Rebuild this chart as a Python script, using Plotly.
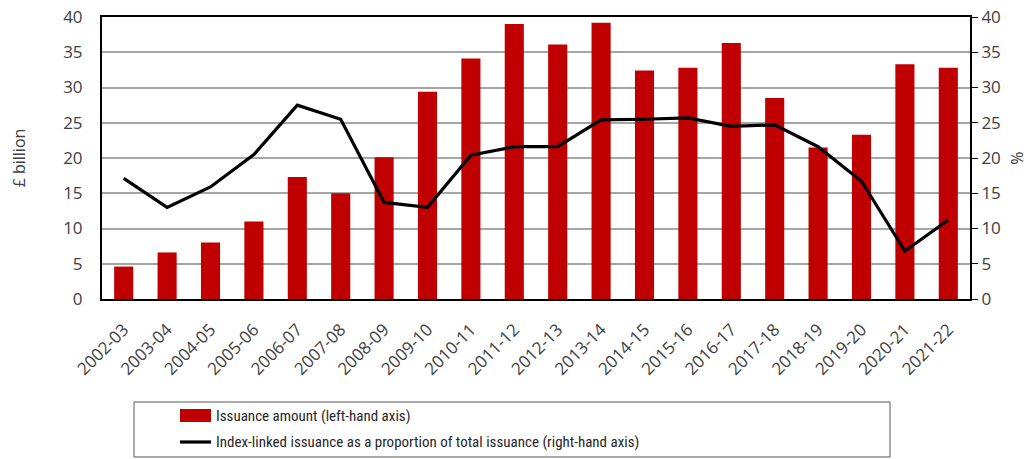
import plotly.graph_objects as go

years = ["2002-03", "2003-04", "2004-05", "2005-06", "2006-07", "2007-08", "2008-09",
         "2009-10", "2010-11", "2011-12", "2012-13", "2013-14", "2014-15", "2015-16",
         "2016-17", "2017-18", "2018-19", "2019-20", "2020-21", "2021-22"]

# issuance amount, £ billion (left axis)
issuance = [4.6, 6.6, 8.0, 11.0, 17.3, 15.0, 20.1, 29.4, 34.1, 39.0,
            36.1, 39.2, 32.4, 32.8, 36.3, 28.5, 21.5, 23.3, 33.3, 32.8]

# index-linked share of total issuance, % (right axis)
share = [17.1, 13.0, 15.9, 20.5, 27.5, 25.5, 13.7, 13.0, 20.4, 21.6,
         21.6, 25.4, 25.5, 25.7, 24.5, 24.7, 21.6, 16.7, 6.8, 11.2]

ticks = [0, 5, 10, 15, 20, 25, 30, 35, 40]

bar_name = "Issuance amount (left-hand axis)"
line_name = "Index-linked issuance as a proportion of total issuance (right-hand axis)"

font = dict(family="Open Sans", size=17, color="#404040")
L, R, T, B = 102, 62, 17, 160
W, H = 1032, 459
pw, ph = W - L - R, H - T - B

def px(x):  # pixel -> paper x
    return (x - L) / pw

def py(y):  # pixel -> paper y
    return (H - B - y) / ph

fig = go.Figure()
fig.add_trace(go.Bar(x=years, y=issuance, name=bar_name,
                     marker=dict(color="#C00000", line=dict(width=0))))
fig.add_trace(go.Scatter(x=years, y=share, yaxis="y2", mode="lines", name=line_name,
                         line=dict(color="black", width=3.2)))

fig.update_layout(
    width=W, height=H,
    margin=dict(l=L, r=R, t=T, b=B),
    paper_bgcolor="white", plot_bgcolor="white",
    font=font,
    bargap=0.56,
    showlegend=False,
    xaxis=dict(type="category", tickangle=-45, showline=True, linecolor="black",
               linewidth=2, mirror=True, ticks="", automargin=False,
               ticklabelstandoff=12, tickfont=dict(size=17, color="#404040")),
    yaxis=dict(range=[0, 40], tickvals=ticks, showgrid=True, gridcolor="#A6A6A6",
               gridwidth=1.5, showline=True, linecolor="black", linewidth=2,
               zeroline=False, ticks="", automargin=False, ticklabelstandoff=14,
               title=dict(text="£ billion", standoff=34, font=dict(size=16))),
    yaxis2=dict(range=[0, 40], tickvals=ticks, overlaying="y", side="right",
                showgrid=False, showline=True, linecolor="black", linewidth=2,
                zeroline=False, ticks="outside", ticklen=6, tickcolor="black",
                automargin=False,
                title=dict(text="%", standoff=12, font=dict(size=16))),
)

# legend drawn by hand, as in the source chart (wide swatches, wide frame)
leg_font = dict(family="Liberation Sans Narrow, Roboto Condensed, Liberation Sans, sans-serif",
                size=15, color="#262626")
fig.add_shape(type="rect", xref="paper", yref="paper",
              x0=px(134), x1=px(890), y0=py(457), y1=py(402),
              line=dict(color="#595959", width=1))
fig.add_shape(type="rect", xref="paper", yref="paper",
              x0=px(180), x1=px(211), y0=py(422), y1=py(409),
              fillcolor="#C00000", line=dict(width=0))
fig.add_shape(type="line", xref="paper", yref="paper",
              x0=px(180), x1=px(211), y0=py(442), y1=py(442),
              line=dict(color="black", width=3.2))
for name, y in [(bar_name, 416), (line_name, 442)]:
    fig.add_annotation(text=name, xref="paper", yref="paper", x=px(214), y=py(y),
                       xanchor="left", yanchor="middle", showarrow=False, font=leg_font)

# drop the browser's default body margin so the chart sits at (0, 0)
fig.write_html("out.html", config={"displayModeBar": False},
               post_script="document.body.style.margin='0';")
